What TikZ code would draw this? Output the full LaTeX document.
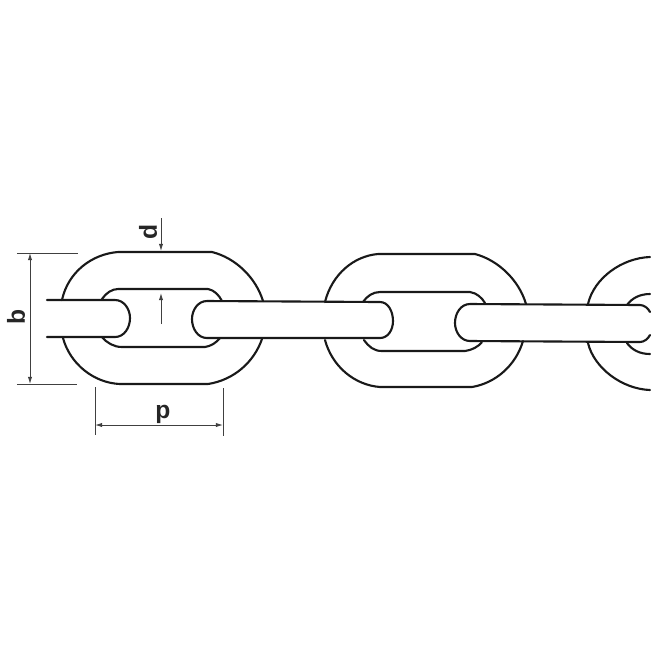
\documentclass[tikz,border=0pt]{standalone}
\usepackage{fontspec}
\setmainfont{Liberation Sans}
\usetikzlibrary{arrows.meta}
\tikzset{
  outline/.style={color=black!90,line width=0.6pt,line cap=round,line join=round},
  dimline/.style={color=black!75,line width=0.25pt},
  dimarrow/.style={color=black!75,line width=0.25pt,arrows=-{Latex[length=2pt,width=1.2pt]}},
  dimboth/.style={color=black!75,line width=0.25pt,arrows={Latex[length=2pt,width=1.2pt]}-{Latex[length=2pt,width=1.2pt]}},
  dimlabel/.style={color=black!85,font=\fontsize{7}{8}\selectfont\bfseries,inner sep=0pt}
}
\begin{document}
\begin{tikzpicture}[x=0.01cm,y=-0.01cm]
\useasboundingbox (0,0) rectangle (650,650);
% first link
\draw[outline](62,300) .. controls (68,272) and (92,254) .. (118,252) -- (212,252) .. controls (236,258) and (256,278) .. (263,301);
\draw[outline](63,338) .. controls (70,364) and (94,383) .. (120,384) -- (208,384) .. controls (234,380) and (254,362) .. (262,339);
\draw[outline](102,299) .. controls (106,293) and (112,289) .. (118,289) -- (208,289) .. controls (214,290) and (219,295) .. (222,301);
\draw[outline](102,337) .. controls (107,343) and (114,347) .. (122,347) -- (205,347) .. controls (211,346) and (216,343) .. (220,338);
% bars between the links
\draw[outline](47,300) -- (115,300) .. controls (124,300) and (130,309) .. (130,318) .. controls (130,328) and (124,337) .. (115,337) -- (47,337);
\draw[outline](380,302) -- (207,301) .. controls (198,301) and (192,310) .. (192,319) .. controls (192,329) and (198,338) .. (207,338) -- (380,338) .. controls (388,338) and (393,330) .. (393,321) .. controls (393,311) and (388,302) .. (380,302);
\draw[outline](650,312) .. controls (648,308) and (644,305) .. (640,305) -- (470,304) .. controls (461,304) and (455,313) .. (455,323) .. controls (455,332) and (461,341) .. (470,341) -- (640,342) .. controls (644,342) and (648,339) .. (650,335);
% second link
\draw[outline](325,302) .. controls (332,274) and (354,256) .. (378,254) -- (475,254) .. controls (498,260) and (519,280) .. (526,304);
\draw[outline](325,340) .. controls (332,366) and (354,385) .. (380,387) -- (472,387) .. controls (496,383) and (516,365) .. (523,341);
\draw[outline](363,302) .. controls (367,296) and (373,292) .. (380,292) -- (470,292) .. controls (477,293) and (482,298) .. (485,303);
\draw[outline](364,340) .. controls (369,347) and (374,351) .. (382,351) -- (465,351) .. controls (472,350) and (478,347) .. (482,342);
% third link, cut by the edge
\draw[outline](588,304) .. controls (594,278) and (622,258) .. (650,257);
\draw[outline](588,343) .. controls (594,368) and (622,389) .. (650,390);
\draw[outline](627,305) .. controls (632,298) and (640,294) .. (650,294);
\draw[outline](627,343) .. controls (632,350) and (640,354) .. (650,354);
% dimensions
\coordinate (btopl) at (17,253);
\coordinate (btopr) at (78,253);
\coordinate (bbotl) at (17,384);
\coordinate (bbotr) at (77,384);
\coordinate (barrt) at (30,253);
\coordinate (barrb) at (30,384);
\coordinate (dtop) at (161,218);
\coordinate (dedge) at (161,251);
\coordinate (dlow) at (161,324);
\coordinate (dinner) at (161,293);
\coordinate (pltop) at (95,387);
\coordinate (plbot) at (95,435);
\coordinate (prtop) at (223,388);
\coordinate (prbot) at (223,436);
\coordinate (parrl) at (95,425);
\coordinate (parrr) at (223,425);
\draw[dimline](btopl) -- (btopr);
\draw[dimline](bbotl) -- (bbotr);
\draw[dimboth](barrt) -- (barrb);
\draw[dimarrow](dtop) -- (dedge);
\draw[dimarrow](dlow) -- (dinner);
\draw[dimline](pltop) -- (plbot);
\draw[dimline](prtop) -- (prbot);
\draw[dimboth](parrl) -- (parrr);
\node[dimlabel,rotate=90] (blabel) at (16,317) {b};
\node[dimlabel,rotate=90] (dlabel) at (148,232) {d};
\node[dimlabel] (plabel) at (163,414) {p};
\end{tikzpicture}
\end{document}
